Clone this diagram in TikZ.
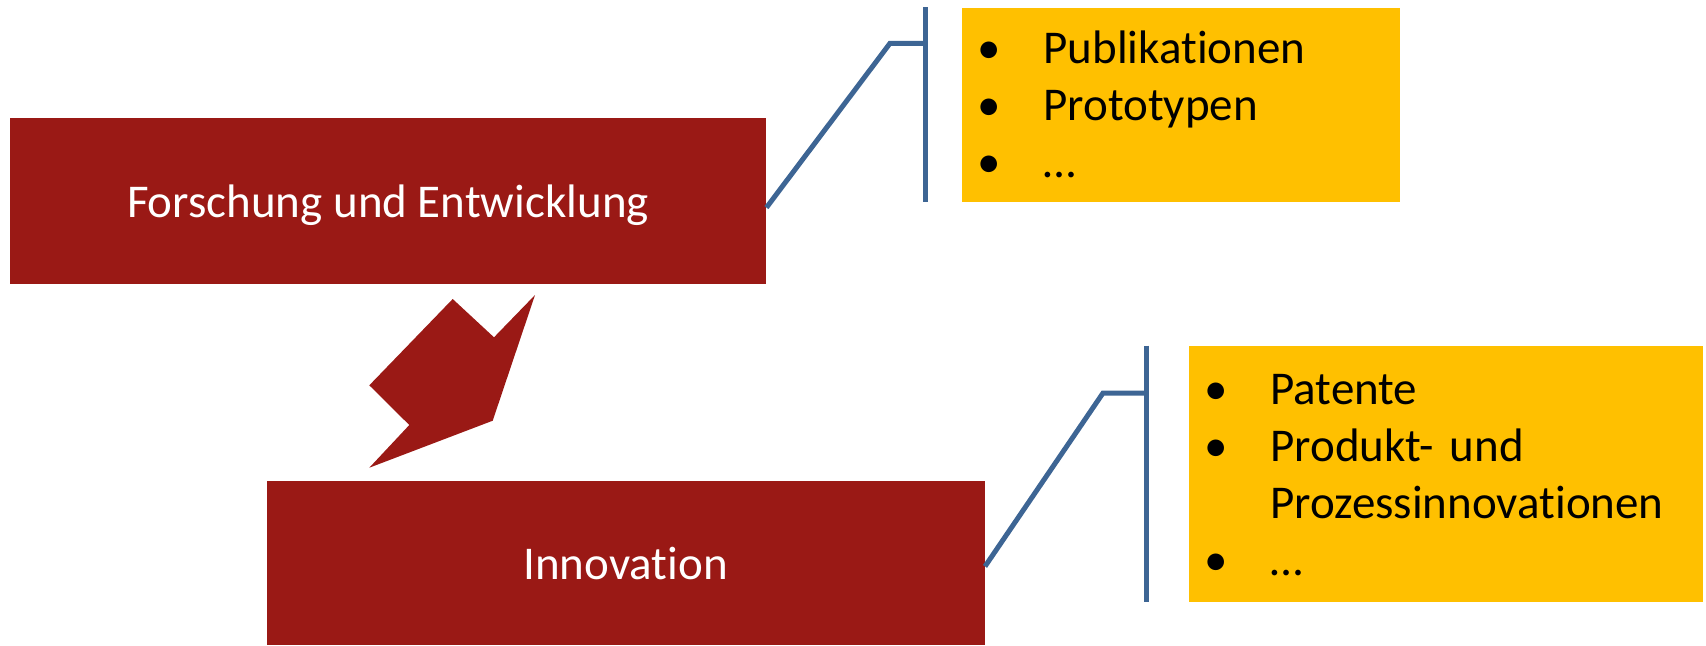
\documentclass[tikz,border=0pt]{standalone}
\usepackage{fontspec}
\setmainfont{Carlito}[Ligatures=NoCommon]
\definecolor{fuered}{HTML}{9A1915}
\definecolor{listgold}{HTML}{FFC000}
\definecolor{linkblue}{HTML}{3D6594}
\newcommand{\bul}{\makebox[33pt][l]{\textbullet}}

\begin{document}
\begin{tikzpicture}[x=0.5pt,y=-0.5pt,font=\fontsize{23.5}{28.5}\selectfont,
  redbox/.style={fill=fuered,text=white,inner sep=0pt,text height=16pt,text depth=0pt},
  goldbox/.style={fill=listgold,anchor=north west,align=left,inner xsep=7.5pt,inner ysep=0pt},
  link/.style={draw=linkblue,line width=2.5pt}]

\useasboundingbox (0,0) rectangle (1706,645);

\node[redbox,minimum width=378pt,minimum height=83pt] (fue) at (388,201) {Forschung und Entwicklung};
\node[redbox,minimum width=359pt,minimum height=82pt] (inno) at (625.6,563) {Innovation};

\fill[fuered] (452.7,299) -- (494,337.3) -- (535,295) -- (492.7,420.7) -- (369.3,467.7) -- (409.3,425) -- (369.3,385.3) -- cycle;

\node[goldbox,text width=204pt] (out1) at (962,7.3) {\rule{0pt}{28pt}\bul Publikationen\\ \bul Prototypen\\ \bul …\rule[-12.3pt]{0pt}{0pt}};
\node[goldbox,text width=242pt] (out2) at (1189,345.7) {\rule{0pt}{29pt}\bul Patente\\ \bul Produkt- und\\ \hspace*{33pt}Prozessinnovationen\\ \bul …\rule[-13.4pt]{0pt}{0pt}};

\coordinate (bend1) at (890,43.3);
\coordinate (tick1) at (925,43.3);
\coordinate (bartop1) at (925,7.3);
\coordinate (barbot1) at (925,201.7);
\draw[link] ([yshift=-3.3pt]fue.east) -- (bend1) -- (tick1);
\draw[link] (bartop1) -- (barbot1);

\coordinate (bend2) at (1103,393);
\coordinate (tick2) at (1146,393);
\coordinate (bartop2) at (1146,345.7);
\coordinate (barbot2) at (1146,602);
\draw[link] ([yshift=-1.7pt]inno.east) -- (bend2) -- (tick2);
\draw[link] (bartop2) -- (barbot2);

\end{tikzpicture}
\end{document}
